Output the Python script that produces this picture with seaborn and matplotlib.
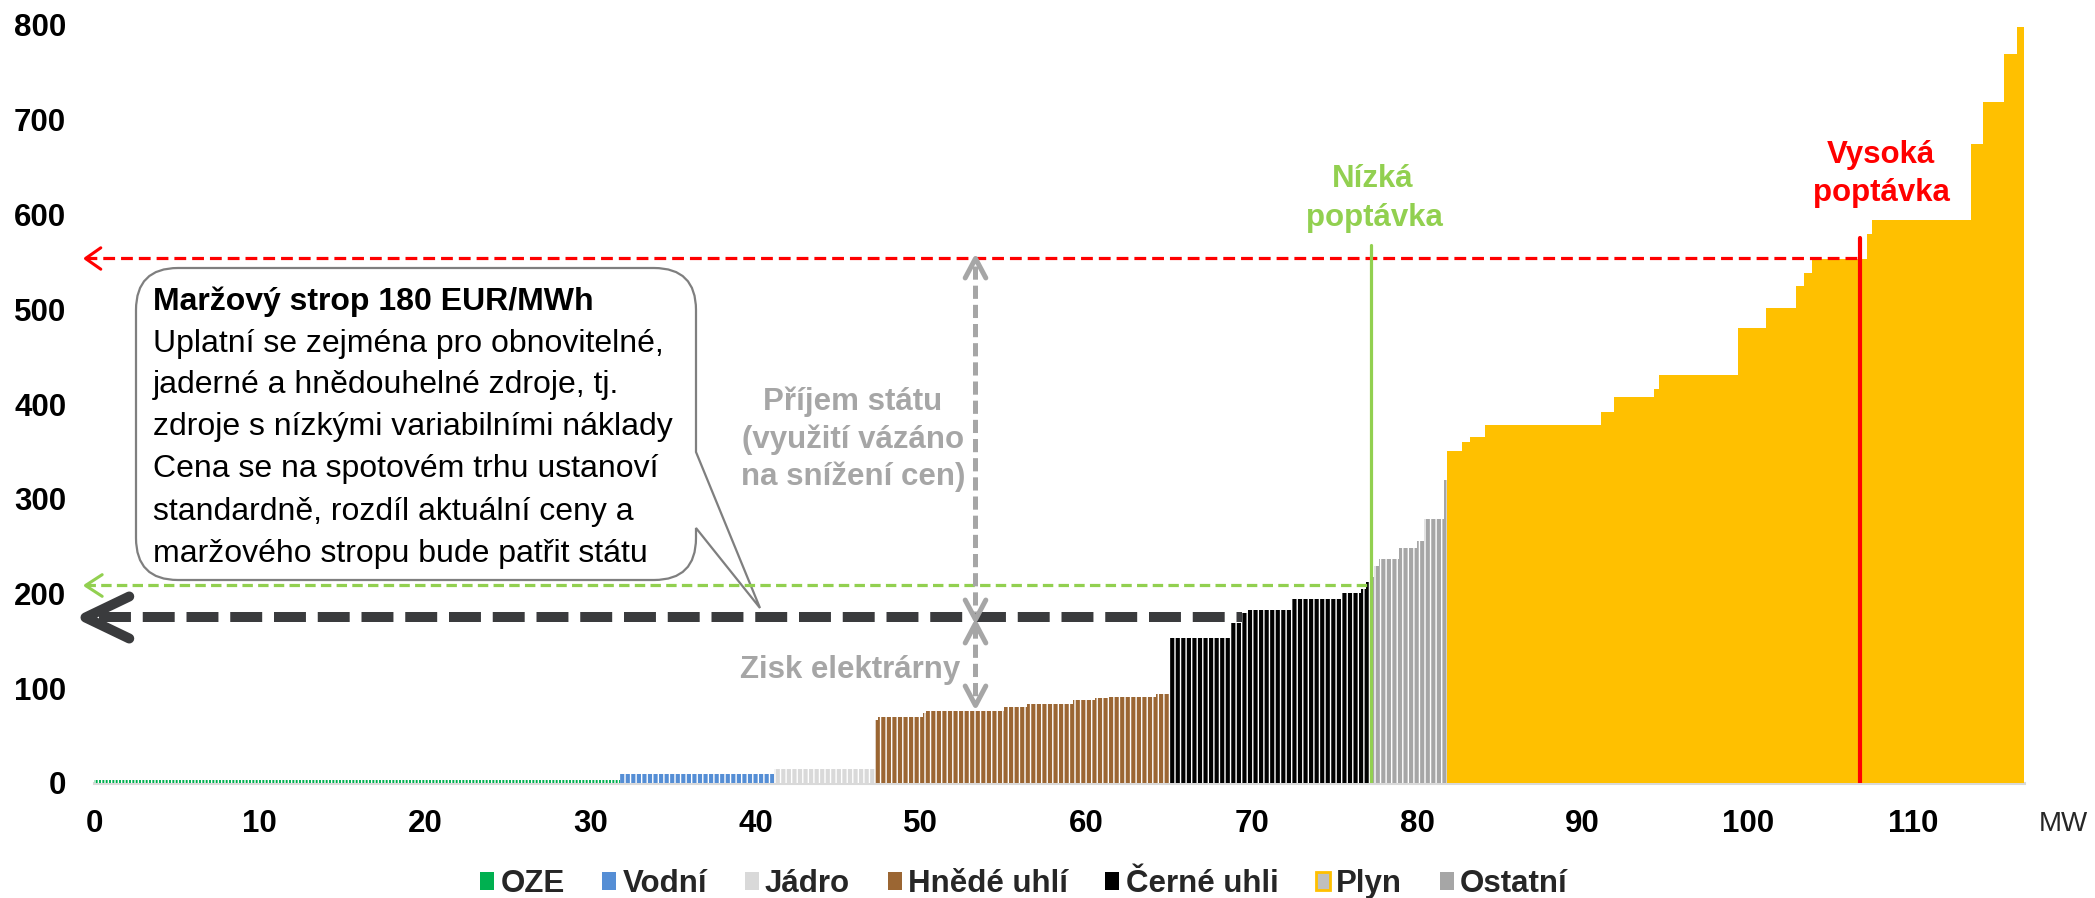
import numpy as np
import pandas as pd
import matplotlib
matplotlib.use("Agg")
import matplotlib.pyplot as plt
import matplotlib.patches as mpatches
import matplotlib.transforms as mtransforms
from matplotlib.path import Path
from matplotlib.markers import MarkerStyle
import seaborn as sns

# ---------------- data (merit order steps: MW edges, price EUR/MWh) ----------------
oze_mw = [0.0, 31.8]
oze_price = [3]
hydro_mw = [31.8, 41.1]
hydro_price = [9]
nuclear_mw = [41.1, 47.2]
nuclear_price = [15]
brown_mw = [47.2, 47.4, 50.1, 50.3, 55.0, 56.4, 59.2, 60.5, 61.3, 64.2, 65.0]
brown_price = [67, 70, 74, 76.5, 80, 83.5, 88, 89.5, 91, 94]
black_mw = [65.0, 68.7, 69.4, 69.8, 72.4, 75.4, 76.6, 76.9, 77.2]
black_price = [153, 169, 179, 183, 194, 201, 205, 212]
other_mw = [77.2, 77.4, 77.7, 78.9, 80.0, 80.4, 81.6, 81.8]
other_price = [217, 229, 236, 248, 255, 279, 320]
gas_mw = [81.8, 82.7, 83.2, 84.1, 91.1, 91.9, 94.3, 94.6, 99.4, 101.1, 102.9,
          103.4, 103.9, 107.2, 107.5, 113.5, 114.2, 115.5, 116.3, 116.7]
gas_price = [350, 360, 365, 378, 392, 407, 416, 431, 480, 501, 525, 538, 553,
             579, 594, 674, 719, 769, 798]

legend_labels = ["OZE", "Vodní", "Jádro", "Hnědé uhlí", "Černé uhli", "Plyn", "Ostatní"]
x_ticks = [0, 10, 20, 30, 40, 50, 60, 70, 80, 90, 100, 110]
y_ticks = [0, 100, 200, 300, 400, 500, 600, 700, 800]

cap_price = 175          # maržový strop line
low_price = 209          # price at low demand
high_price = 554         # price at high demand
low_demand = 77.2        # MW
high_demand = 106.8      # MW
cap_end = 69.4           # MW where the cap line meets the curve
arrow_x = 53.3
profit_bottom = 82

# ---------------- style ----------------
sns.set_theme(style="white")
plt.rcParams["font.family"] = ["Liberation Sans", "DejaVu Sans"]
plt.rcParams["hatch.linewidth"] = 1.0
plt.rcParams["hatch.color"] = "white"
plt.rcParams["lines.scale_dashes"] = False

colors = {
    "OZE": "#00b050", "Vodní": "#558ed5", "Jádro": "#d9d9d9",
    "Hnědé uhlí": "#9b6633", "Černé uhli": "#000000", "Plyn": "#ffc000",
    "Ostatní": "#a6a6a6",
}
GREEN = "#92d050"
RED = "#ff0000"
DARK = "#3a3b3d"
GRAY = "#a6a6a6"

W, H = 2095, 898
fig = plt.figure(figsize=(W / 100, H / 100), dpi=100)
ax = fig.add_axes([94 / W, 1 - 783 / H, (2024 - 94) / W, (783 - 25) / H])

segments = [
    ("OZE", oze_mw, oze_price, "|||||"),
    ("Vodní", hydro_mw, hydro_price, "|||"),
    ("Jádro", nuclear_mw, nuclear_price, "|||"),
    ("Hnědé uhlí", brown_mw, brown_price, "|||"),
    ("Černé uhli", black_mw, black_price, "|||"),
    ("Ostatní", other_mw, other_price, "|||"),
    ("Plyn", gas_mw, gas_price, None),
]
for name, mw, price, hatch in segments:
    edges = [float(v) for v in mw]
    mids = [(a + b) / 2 for a, b in zip(edges[:-1], edges[1:])]
    df = pd.DataFrame({"mw": mids, "price": [float(p) for p in price]})
    sns.histplot(data=df, x="mw", weights="price", bins=edges, ax=ax,
                 color=colors[name], alpha=1, edgecolor="white", linewidth=0,
                 hatch=hatch, element="bars", fill=True, zorder=2)

ax.set_xlim(0, 116.7)
ax.set_ylim(0, 800)
ax.set_xlabel("")
ax.set_ylabel("")
ax.set_xticks(x_ticks)
ax.set_xticklabels([str(v) for v in x_ticks], fontsize=22.5, fontweight="bold")
ax.set_yticks(y_ticks)
ax.set_yticklabels([str(v) for v in y_ticks], fontsize=22.5, fontweight="bold")
ax.tick_params(axis="both", length=0, colors="black")
ax.tick_params(axis="y", pad=20)
ax.tick_params(axis="x", pad=19)
sns.despine(ax=ax, left=True)
ax.spines["bottom"].set_color("#d9d9d9")
ax.spines["bottom"].set_linewidth(2.2)
ax.spines["bottom"].set_zorder(1)
ax.grid(False)

fig.text(2063 / W, 1 - 824 / H, "MW", ha="center", va="center", fontsize=20)


def chevron(direction, k):
    if direction == "left":
        v = [(1, k), (0, 0), (1, -k)]
    elif direction == "up":
        v = [(-k, -1), (0, 0), (k, -1)]
    else:
        v = [(-k, 1), (0, 0), (k, 1)]
    p = Path(v, [Path.MOVETO, Path.LINETO, Path.LINETO])
    return MarkerStyle(p, joinstyle="round", capstyle="round")


tip_x = -0.55
# red dashed (high demand price)
ax.plot([tip_x, high_demand], [high_price, high_price], color=RED, lw=2.3,
        ls=(0, (8.5, 4.3)), clip_on=False, zorder=5)
ax.plot([tip_x], [high_price], marker=chevron("left", 0.7), ms=22, mec=RED,
        mfc="none", mew=2.2, clip_on=False, zorder=5)
# green dashed (low demand price)
ax.plot([tip_x, low_demand], [low_price, low_price], color=GREEN, lw=2.3,
        ls=(0, (7.5, 3.8)), clip_on=False, zorder=6)
ax.plot([tip_x], [low_price], marker=chevron("left", 0.65), ms=24, mec=GREEN,
        mfc="none", mew=2.2, clip_on=False, zorder=6)
# dark thick dashed (cap)
ax.plot([0.3, cap_end], [cap_price, cap_price], color=DARK, lw=7.2,
        ls=(0, (23, 8.5)), clip_on=False, zorder=5, solid_capstyle="butt")
ax.plot([tip_x], [cap_price], marker=chevron("left", 0.48), ms=63, mec=DARK,
        mfc="none", mew=7.2, clip_on=False, zorder=5)

# demand verticals
ax.plot([low_demand, low_demand], [0, 568], color=GREEN, lw=2.3, zorder=6)
ax.plot([high_demand, high_demand], [0, 575], color=RED, lw=3.0, zorder=6)

# gray double arrows
ax.plot([arrow_x, arrow_x], [high_price - 8, cap_price + 4], color=GRAY, lw=3.6,
        ls=(0, (9.5, 4.3)), zorder=6)
ax.plot([arrow_x], [high_price], marker=chevron("up", 0.53), ms=28, mec=GRAY,
        mfc="none", mew=3.6, zorder=6)
ax.plot([arrow_x], [cap_price - 2], marker=chevron("down", 0.53), ms=28, mec=GRAY,
        mfc="none", mew=3.6, zorder=6)
ax.plot([arrow_x, arrow_x], [cap_price - 8, profit_bottom + 4], color=GRAY, lw=3.6,
        ls=(0, (9.5, 4.3)), zorder=6)
ax.plot([arrow_x], [cap_price - 6], marker=chevron("up", 0.53), ms=28, mec=GRAY,
        mfc="none", mew=3.6, zorder=6)
ax.plot([arrow_x], [profit_bottom], marker=chevron("down", 0.53), ms=28, mec=GRAY,
        mfc="none", mew=3.6, zorder=6)

# ---------------- callout ----------------
tr = mtransforms.Affine2D().scale(1 / W, 1 / H) + fig.transFigure
L, R, T, B, r = 136, 696, 268, 580, 42
tail_a, tail_b, tip = 452, 528, (760, 608)


def P(x, y):
    return (x, H - y)


verts = [P(L + r, T), P(R - r, T), P(R, T), P(R, T + r), P(R, tail_a), P(*tip),
         P(R, tail_b), P(R, B - r), P(R, B), P(R - r, B), P(L + r, B), P(L, B),
         P(L, B - r), P(L, T + r), P(L, T), P(L + r, T), P(L + r, T)]
codes = [Path.MOVETO, Path.LINETO, Path.CURVE3, Path.CURVE3, Path.LINETO,
         Path.LINETO, Path.LINETO, Path.LINETO, Path.CURVE3, Path.CURVE3,
         Path.LINETO, Path.CURVE3, Path.CURVE3, Path.LINETO, Path.CURVE3,
         Path.CURVE3, Path.CLOSEPOLY]
callout = mpatches.PathPatch(Path(verts, codes), transform=tr, facecolor="white",
                             edgecolor="#7f7f7f", lw=1.6, zorder=4, clip_on=False)
ax.add_patch(callout)

box_lines = ["Maržový strop 180 EUR/MWh",
             "Uplatní se zejména pro obnovitelné,",
             "jaderné a hnědouhelné zdroje, tj.",
             "zdroje s nízkými variabilními náklady",
             "Cena se na spotovém trhu ustanoví",
             "standardně, rozdíl aktuální ceny a",
             "maržového stropu bude patřit státu"]
baselines = [310, 351.7, 393.3, 435, 476.7, 520, 561.7]
for i, (txt, yb) in enumerate(zip(box_lines, baselines)):
    fig.text(153 / W, 1 - yb / H, txt, ha="left", va="baseline", fontsize=23,
             fontweight="bold" if i == 0 else "normal", color="black", zorder=7)

# gray labels
for txt, yc in zip(["Příjem státu", "(využití vázáno", "na snížení cen)"], [402, 440, 477]):
    fig.text(853 / W, 1 - yc / H, txt, ha="center", va="center", fontsize=22.5,
             fontweight="bold", color=GRAY)
fig.text(850 / W, 1 - 670 / H, "Zisk elektrárny", ha="center", va="center",
         fontsize=22.5, fontweight="bold", color=GRAY)

# demand labels
fig.text(1373 / W, 1 - 187 / H, "Nízká", ha="center", va="baseline", fontsize=22.5,
         fontweight="bold", color=GREEN)
fig.text(1374 / W, 1 - 226 / H, "poptávka", ha="center", va="baseline", fontsize=22.5,
         fontweight="bold", color=GREEN)
fig.text(1881 / W, 1 - 163 / H, "Vysoká", ha="center", va="baseline", fontsize=22.5,
         fontweight="bold", color=RED)
fig.text(1881 / W, 1 - 201 / H, "poptávka", ha="center", va="baseline", fontsize=22.5,
         fontweight="bold", color=RED)

# ---------------- legend ----------------
handles = []
for lab in legend_labels:
    if lab == "Plyn":
        handles.append(mpatches.Patch(facecolor="#bfbfbf", edgecolor=colors["Plyn"],
                                      linewidth=2.0, label=lab))
    else:
        handles.append(mpatches.Patch(facecolor=colors[lab], edgecolor="none", label=lab))
fig.legend(handles=handles, loc="center", bbox_to_anchor=(1024 / W, 1 - 884 / H),
           ncol=7, frameon=False, handlelength=0.45, handleheight=0.55,
           handletextpad=0.2, columnspacing=1.2,
           prop={"size": 22.5, "weight": "bold"})

fig.savefig("out.png", dpi=100)
